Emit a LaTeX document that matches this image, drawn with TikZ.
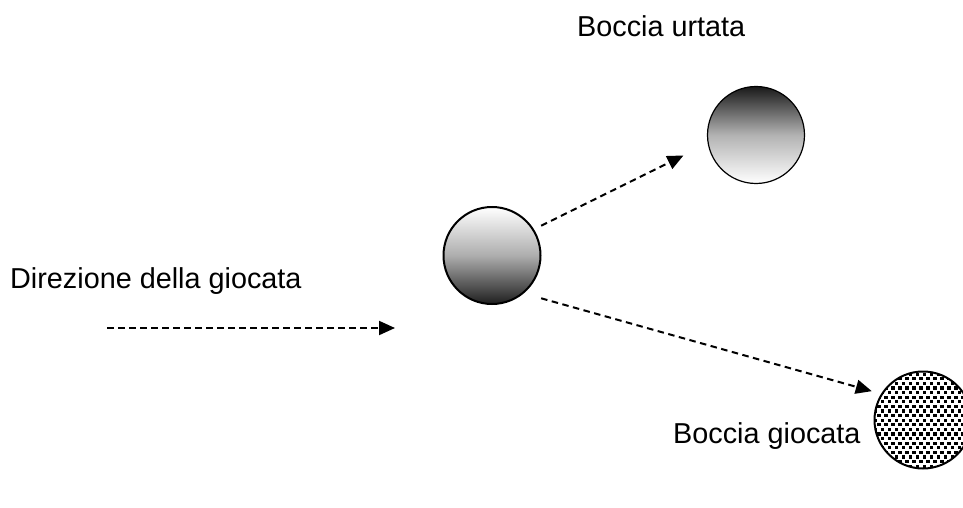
\documentclass[tikz,border=0pt]{standalone}
\usepackage{fontspec}
\setmainfont{Liberation Sans}
\usetikzlibrary{arrows.meta}
\begin{document}
\begin{tikzpicture}[x=1pt,y=-1pt,
  lbl/.style={anchor=base west,inner sep=0pt,font=\fontsize{28.8}{31}\selectfont},
  ball/.style={circle,draw=black,minimum size=97pt,inner sep=0pt},
  conn/.style={draw=black,line width=2pt,dash pattern=on 6.5pt off 4.5pt,
    -{Triangle[length=16pt,width=14pt]}}]
\useasboundingbox (0,0) rectangle (963,508);
\clip (0,0) rectangle (963,508);
\node[ball,line width=2pt,top color=white,bottom color=black!88,middle color=black!32] (mid) at (492,255.5) {};
\node[ball,line width=1.2pt,top color=black!90,bottom color=white,middle color=black!30] (up) at (756,135) {};
\begin{scope}
  \clip (923,420) circle (48.5);
  \foreach \r in {0,...,23}{
    \pgfmathsetmacro{\off}{mod(\r,2)*3.5}
    \foreach \c in {0,...,15}{
      \fill[black] (870+\c*7+\off,368+\r*4.6) rectangle ++(3.6,3.2);
    }
  }
\end{scope}
\node[ball,line width=2pt] (low) at (923,420) {};
\coordinate (h1) at (107,328);
\coordinate (h2) at (395,328);
\draw[conn] (h1) -- (h2);
\draw[conn,shorten <=8pt,shorten >=27pt] (mid.32) -- (up.190);
\draw[conn,shorten <=18pt,shorten >=9.6pt] (mid.-50) -- (low.148);
\node[lbl] (t1) at (577,37) {Boccia urtata};
\node[lbl] (t2) at (10,288) {Direzione della giocata};
\node[lbl] (t3) at (673,443) {Boccia giocata};
\end{tikzpicture}
\end{document}
